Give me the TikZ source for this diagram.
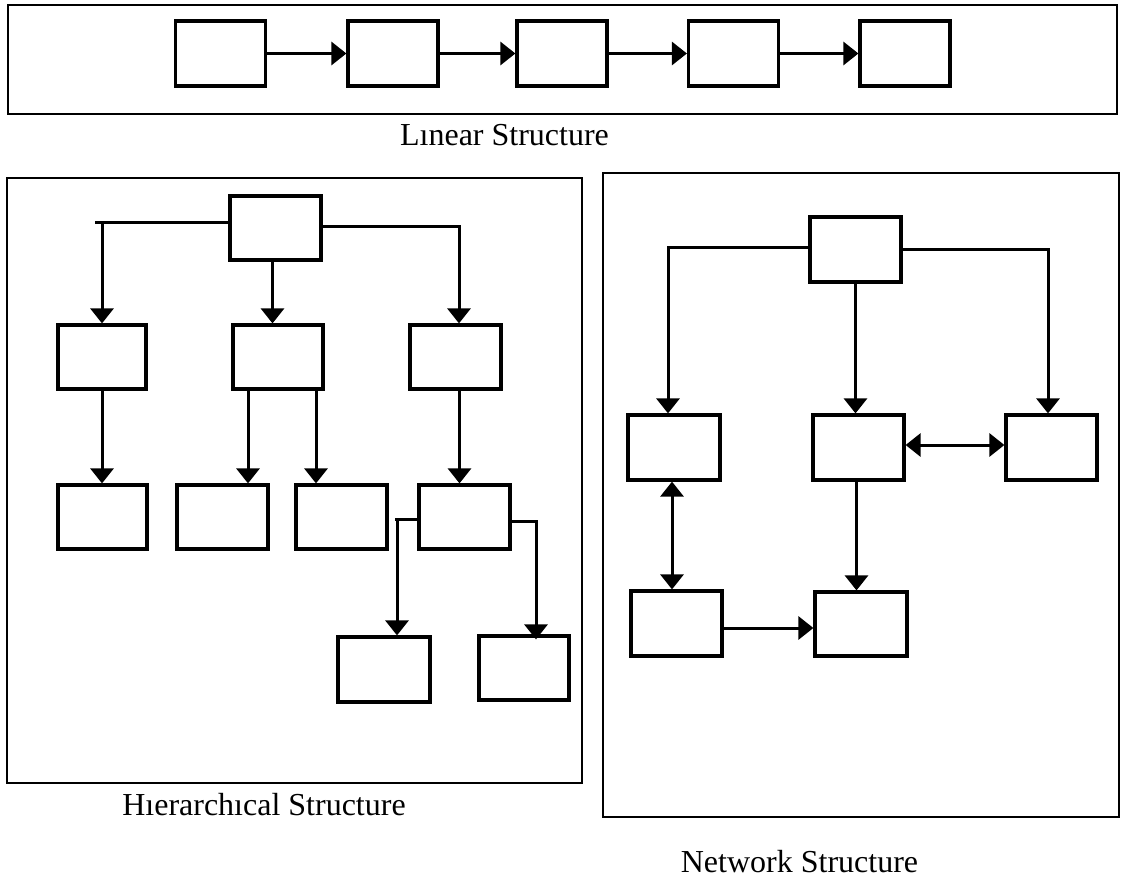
\documentclass[tikz,border=0pt]{standalone}
\usepackage{fontspec}
\setmainfont{Liberation Serif}
\usetikzlibrary{arrows.meta}
\begin{document}
\begin{tikzpicture}[x=1pt,y=-1pt,
  box/.style={draw, line width=3.2pt, inner sep=0pt, minimum width=90pt, minimum height=65pt},
  frame/.style={draw, line width=2.2pt},
  link/.style={line width=3pt},
  arr/.style={line width=3pt, -{Triangle[length=15pt,width=23pt]}},
  biarr/.style={line width=3pt, {Triangle[length=15pt,width=23pt]}-{Triangle[length=15pt,width=23pt]}},
  caption/.style={anchor=base, inner sep=0pt, font=\fontsize{32}{38}\selectfont}]
\useasboundingbox (0,0) rectangle (1124,878);

% panel frames
\draw[frame] (8,5) rectangle (1117,114);
\draw[frame] (7,178) rectangle (582,783);
\draw[frame] (603,173) rectangle (1119,817);

% linear chain
\node[box] (l1) at (220.5,53.5) {};
\node[box] (l2) at (393,53.5) {};
\node[box] (l3) at (562,53.5) {};
\node[box] (l4) at (733.5,53.5) {};
\node[box] (l5) at (905,53.5) {};
\foreach \a/\b in {l1/l2,l2/l3,l3/l4,l4/l5}
  \draw[arr] (\a.east) -- (\b.west);
\node[caption] (lcap) at (504.5,145) {Lınear Structure};

% hierarchy
\node[box, minimum width=91pt, minimum height=64pt] (h0) at (275.5,228) {};
\node[box, minimum width=88pt, minimum height=64pt] (ha) at (102,357) {};
\node[box, minimum height=64pt] (hb) at (278,357) {};
\node[box, minimum width=91pt, minimum height=64pt] (hc) at (455.5,357) {};
\node[box, minimum width=89pt, minimum height=64pt] (hd) at (102.5,517) {};
\node[box, minimum width=91pt, minimum height=64pt] (he) at (222.5,517) {};
\node[box, minimum width=91pt, minimum height=64pt] (hf) at (341.5,517) {};
\node[box, minimum width=91pt, minimum height=64pt] (hg) at (464.5,517) {};
\node[box, minimum width=92pt] (hh) at (384,669.5) {};
\node[box, minimum height=64pt] (hi) at (524,668) {};

\coordinate (hl) at (95,222);
\coordinate (hr) at (459,226);
\draw[link] ([yshift=6pt]h0.west) -- (hl);
\draw[arr] (ha.north |- hl) -- (ha.north);
\draw[arr] ([xshift=-3pt]h0.south) -- ([xshift=-3pt]h0.south |- hb.north);
\draw[arr] ([yshift=2pt]h0.east) -- (hr) -- (hr |- hc.north);
\draw[arr] (ha.south) -- (ha.south |- hd.north);
\draw[arr] ([xshift=-30pt]hb.south) -- ([xshift=-30pt]hb.south |- he.north);
\draw[arr] ([xshift=38pt]hb.south) -- ([xshift=38pt]hb.south |- hf.north);
\draw[arr] ([xshift=4pt]hc.south) -- ([xshift=4pt]hc.south |- hg.north);

\coordinate (gl) at (397,519);
\coordinate (gr) at (536,521);
\draw[link] (hg.west |- gl) -- ([xshift=-2pt]gl);
\draw[arr] (gl) -- (gl |- hh.north);
\draw[arr] (hg.east |- gr) -- (gr) -- ([yshift=-5pt]gr |- hi.north);
\node[caption] (hcap) at (264,815) {Hıerarchıcal Structure};

% network
\node[box, minimum width=91pt] (n0) at (855.5,249.5) {};
\node[box, minimum width=92pt] (np) at (674,447.5) {};
\node[box, minimum width=91pt] (nq) at (858.5,447.5) {};
\node[box, minimum width=91pt] (nr) at (1051.5,447.5) {};
\node[box, minimum width=91pt] (ns) at (676.5,623.5) {};
\node[box, minimum width=92pt, minimum height=64pt] (nt) at (861,624) {};

\coordinate (nl) at (668,247);
\coordinate (nrr) at (1048,249);
\draw[arr] (n0.west |- nl) -- (nl) -- (nl |- np.north);
\draw[arr] (n0.east |- nrr) -- (nrr) -- (nrr |- nr.north);
\draw[arr] (n0.south) -- (n0.south |- nq.north);
\draw[biarr] (nq.east |- 0,445) -- (nr.west |- 0,445);
\draw[biarr] ([xshift=-2pt]np.south) -- ([xshift=-2pt]np.south |- ns.north);
\draw[arr] (ns.east |- 0,628) -- (nt.west |- 0,628);
\draw[arr] ([xshift=-2pt]nq.south) -- ([xshift=-2pt]nq.south |- nt.north);
\node[caption] (ncap) at (799.5,872) {Network Structure};
\end{tikzpicture}
\end{document}
